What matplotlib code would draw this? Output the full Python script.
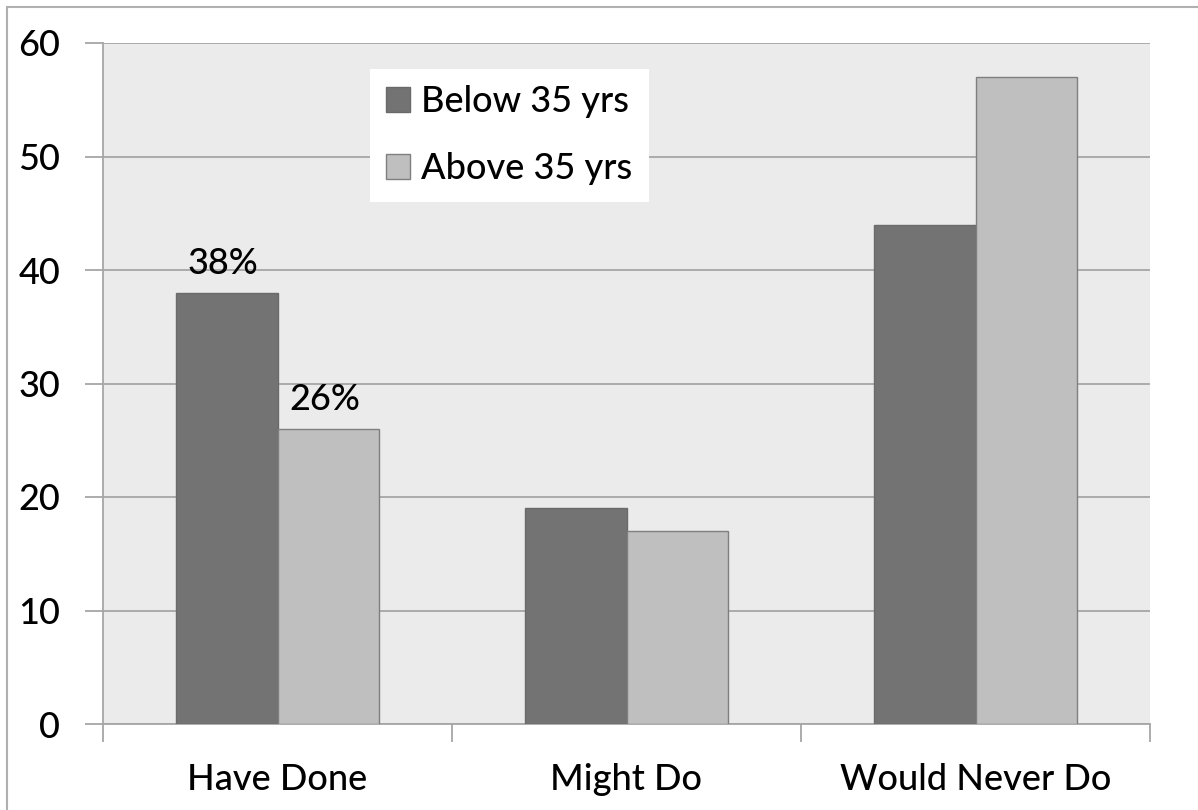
import matplotlib.pyplot as plt
import matplotlib.patches as mpatches
import numpy as np

# data
categories = ["Have Done", "Might Do", "Would Never Do"]
below_35 = [38, 19, 44]
above_35 = [26, 17, 57]
series_names = ["Below 35 yrs", "Above 35 yrs"]
# (category index, series index) -> label text
value_labels = {(0, 0): "38%", (0, 1): "26%"}

plt.rcParams['font.family'] = ['Lato', 'DejaVu Sans']
plt.rcParams['font.weight'] = 'medium'

fig = plt.figure(figsize=(11.98, 8.10), dpi=100)
ax = fig.add_axes([103/1198, 1 - 724/810, (1150 - 103)/1198, (724 - 43)/810])

# outer frame (cut off at right and bottom like the screenshot)
fig.patches.append(mpatches.Rectangle((7/1198, -0.1), 1.2, 1 - 7/810 + 0.1,
                                      transform=fig.transFigure, fill=False,
                                      edgecolor='#b0b0b0', linewidth=1.5))

x = np.arange(len(categories))
w = 0.29
b1 = ax.bar(x - w/2, below_35, w, color='#737373', edgecolor='#6a6a6a', linewidth=1, label=series_names[0], zorder=3)
b2 = ax.bar(x + w/2, above_35, w, color='#bfbfbf', edgecolor='#7f7f7f', linewidth=1, label=series_names[1], zorder=3)

for (cat, s), txt in value_labels.items():
    bars = b1 if s == 0 else b2
    r = bars[cat]
    ax.text(r.get_x() + r.get_width()/2 - 0.01, r.get_height() + 1.1, txt,
            ha='center', va='bottom', fontsize=26)

ax.set_facecolor('#ebebeb')
ax.set_xlim(-0.5, 2.5)
ax.set_ylim(0, 60)
ax.set_yticks(range(0, 61, 10))
ax.yaxis.grid(True, color='#a6a6a6', linewidth=1.3, zorder=0)
ax.set_axisbelow(True)

ax.set_xticks([-0.5, 0.5, 1.5, 2.5])
ax.set_xticklabels([])
ax.set_xticks(x, minor=True)
ax.set_xticklabels(categories, minor=True, fontsize=26)
ax.tick_params(axis='x', which='minor', length=0, pad=28)
ax.tick_params(axis='x', which='major', length=13, color='#a6a6a6', width=1.3)
ax.tick_params(axis='y', length=13, color='#a6a6a6', width=1.3, labelsize=26, pad=18)

for s in ['top', 'right']:
    ax.spines[s].set_visible(False)
for s in ['left', 'bottom']:
    ax.spines[s].set_color('#a6a6a6')
    ax.spines[s].set_linewidth(1.3)

leg = ax.legend(loc='upper left', bbox_to_anchor=(0.255, 0.962), fontsize=26,
                frameon=True, fancybox=False, framealpha=1, edgecolor='white',
                handlelength=0.67, handleheight=0.67, handletextpad=0.3,
                labelspacing=0.95, borderpad=0.45, borderaxespad=0)
leg.get_frame().set_linewidth(0)

fig.savefig("out.png", dpi=100)
